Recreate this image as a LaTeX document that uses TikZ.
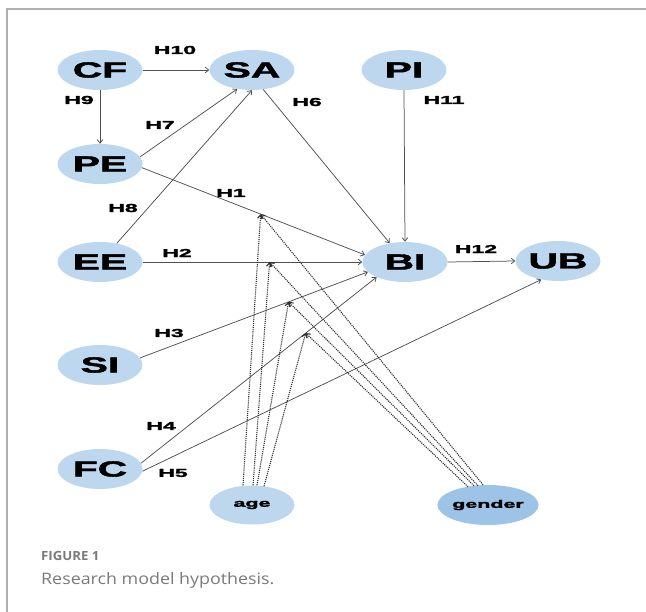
\documentclass[tikz,border=0pt]{standalone}
\usepackage{fontspec}
\setmainfont{Liberation Sans}
\newfontfamily\heavyfont{Liberation Sans}[BoldFeatures={FakeBold=1.6}]
\newfontfamily\capfont{Open Sans}
\usetikzlibrary{arrows.meta,shapes.geometric}
\definecolor{nodefill}{HTML}{BDD7EE}
\definecolor{genderfill}{HTML}{9DC3E6}
\definecolor{edgecol}{HTML}{505050}
\definecolor{dotcol}{HTML}{303030}
\definecolor{framecol}{HTML}{B0B0B0}
\definecolor{capcol}{HTML}{7A7A7A}
\newcommand{\bigtxt}[1]{\heavyfont\fontsize{22}{22}\selectfont\bfseries\scalebox{1.85}[1]{#1}}
\newcommand{\hyptxt}[1]{\heavyfont\fontsize{11.5}{11.5}\selectfont\bfseries\scalebox{2.0}[1]{#1}}
\newcommand{\modtxt}[1]{\heavyfont\fontsize{11}{11}\selectfont\bfseries\scalebox{1.95}[1]{#1}}
\tikzset{
  ell/.style={ellipse, fill=nodefill, draw=none, minimum width=85pt, minimum height=40pt, inner sep=0pt},
  hyp/.style={inner sep=0pt, text=black},
  arr/.style={draw=edgecol, line width=0.75pt, -{Straight Barb[length=3.5pt,width=5.5pt]}},
  modline/.style={draw=dotcol, line width=1.1pt, densely dotted, -{Straight Barb[length=3.5pt,width=5.5pt]}},
}
\begin{document}
\begin{tikzpicture}[x=1pt,y=-1pt]
\useasboundingbox (0,0) rectangle (646,612);
\draw[framecol, line width=1.3pt] (646,9) -- (7,9) -- (7,612);

% nodes
\node[ell] (CF) at (100,70) {\bigtxt{CF}};
\node[ell] (SA) at (252,70) {\bigtxt{SA}};
\node[ell] (PI) at (404,70) {\bigtxt{PI}};
\node[ell] (PE) at (100,164) {\bigtxt{PE}};
\node[ell] (EE) at (100,262) {\bigtxt{EE}};
\node[ell] (BI) at (405,262) {\bigtxt{BI}};
\node[ell] (UB) at (558,261) {\bigtxt{UB}};
\node[ell] (SI) at (100,365) {\bigtxt{SI}};
\node[ell] (FC) at (100,469) {\bigtxt{FC}};
\node[ell, minimum height=39pt] (age) at (252,505) {\modtxt{age}};
\node[ell, fill=genderfill, minimum width=83pt] (gender) at (488,505) {\modtxt{gender}};

% solid paths
\draw[arr] (CF.east) -- (SA.west);
\draw[arr] (CF.south) -- (PE.north);
\draw[arr] (PE.10) -- (SA.-128);
\draw[arr] (EE.48) -- (SA.south);
\draw[arr] (PE.-5) -- coordinate[pos=0.532] (m1) (BI.170);
\draw[arr] (SA.-60) -- (BI.129);
\draw[arr] (PI.south) -- (BI.north);
\draw[arr] (EE.east) -- coordinate[pos=0.578] (m2) (BI.west);
\draw[arr] (BI.east) -- (UB.west);
\draw[arr] (SI.10) -- coordinate[pos=0.652] (m3) (BI.195);
\draw[arr] (FC.8) -- coordinate[pos=0.699] (m4) (BI.208);
\draw[arr] (FC.-3) -- (UB.-132);

% moderator paths
\draw[modline] ([xshift=-9pt]age.north) -- (m1);
\draw[modline] ([xshift=1pt]age.north) -- (m2);
\draw[modline] ([xshift=5pt]age.north) -- (m3);
\draw[modline] ([xshift=12pt,yshift=-1pt]age.north) -- (m4);
\draw[modline] ([xshift=-5pt]gender.north) -- (m1);
\draw[modline] ([xshift=-10pt,yshift=-1pt]gender.north) -- (m2);
\draw[modline] ([xshift=-14pt,yshift=-1pt]gender.north) -- (m3);
\draw[modline] ([xshift=-20pt,yshift=-2pt]gender.north) -- (m4);

% hypothesis labels
\node[hyp] (h10) at (175,50) {\hyptxt{H10}};
\node[hyp] (h9) at (79,100) {\hyptxt{H9}};
\node[hyp] (h7) at (160,125) {\hyptxt{H7}};
\node[hyp] (h6) at (307,102) {\hyptxt{H6}};
\node[hyp] (h11) at (444,100) {\hyptxt{H11}};
\node[hyp] (h1) at (231,193) {\hyptxt{H1}};
\node[hyp] (h8) at (123,208) {\hyptxt{H8}};
\node[hyp] (h2) at (177,253) {\hyptxt{H2}};
\node[hyp] (h12) at (476,249) {\hyptxt{H12}};
\node[hyp] (h3) at (169,333) {\hyptxt{H3}};
\node[hyp] (h4) at (161,426) {\hyptxt{H4}};
\node[hyp] (h5) at (173,473) {\hyptxt{H5}};

% caption
\node[anchor=base west, inner sep=0pt, text=capcol] (figlbl) at (41,561)
  {\capfont\bfseries\fontsize{12.6}{14}\selectfont\scalebox{1.05}[1]{FIGURE 1}};
\node[anchor=base west, inner sep=0pt, text=capcol] (caption) at (41,584.5)
  {\capfont\fontsize{15.8}{18}\selectfont\scalebox{1.13}[1]{Research model hypothesis.}};
\end{tikzpicture}
\end{document}
